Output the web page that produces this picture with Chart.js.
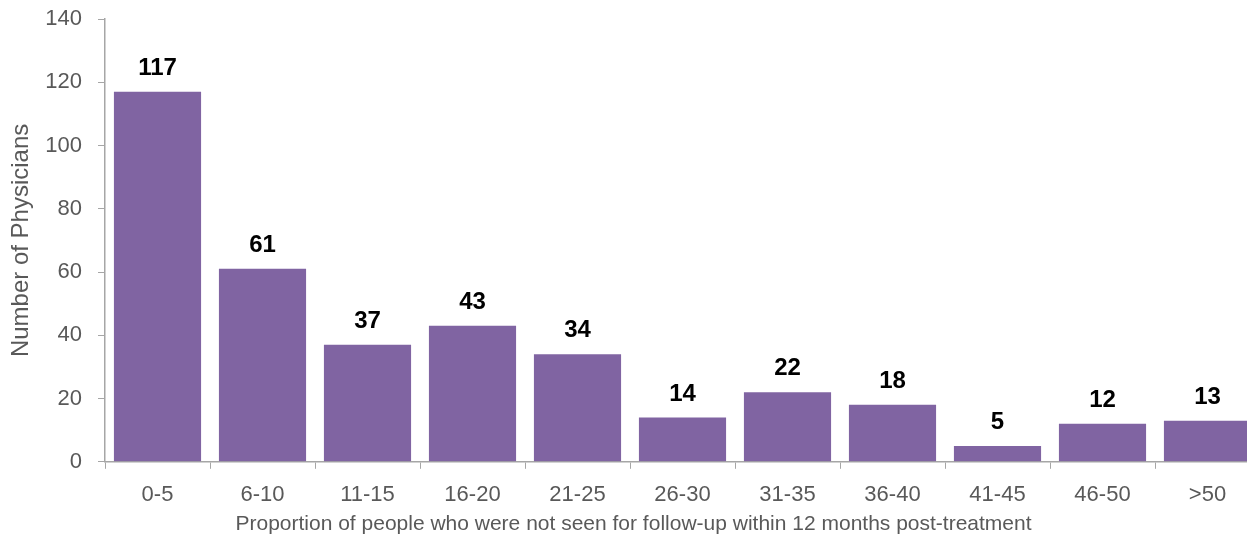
<!DOCTYPE html>
<html>
<head>
<meta charset="utf-8">
<script src="https://cdn.jsdelivr.net/npm/chart.js@4/dist/chart.umd.min.js"></script>
<style>
  html, body { margin: 0; padding: 0; background: #fff; overflow: hidden; }
  #wrap { position: relative; width: 1260px; height: 539px; }
</style>
</head>
<body>
<div id="wrap"><canvas id="chart"></canvas></div>
<script>
// Categories along the x axis
const CATEGORIES = ['0-5', '6-10', '11-15', '16-20', '21-25', '26-30', '31-35', '36-40', '41-45', '46-50', '>50'];

// Number of physicians per category
const PHYSICIANS = [117, 61, 37, 43, 34, 14, 22, 18, 5, 12, 13];

// Y axis range
const Y_MIN = 0;
const Y_MAX = 140;
const Y_STEP = 20;

const FONT = 'Arial, "Liberation Sans", sans-serif';
const BAR_COLOR = '#8064A2';
const AXIS_COLOR = '#A6A6A6';
const TEXT_COLOR = '#595959';

// Draws the bold value over each bar
const valueLabels = {
    id: 'valueLabels',
    afterDatasetsDraw(chart) {
        const ctx = chart.ctx;
        const meta = chart.getDatasetMeta(0);
        ctx.save();
        ctx.font = 'bold 24px ' + FONT;
        ctx.fillStyle = '#000';
        ctx.textAlign = 'center';
        ctx.textBaseline = 'alphabetic';
        meta.data.forEach((bar, i) => {
            ctx.fillText(String(chart.data.datasets[0].data[i]), bar.x, bar.y - 17);
        });
        ctx.restore();
    }
};

new Chart(document.getElementById('chart'), {
    type: 'bar',
    data: {
        labels: CATEGORIES,
        datasets: [{
            data: PHYSICIANS,
            backgroundColor: BAR_COLOR,
            borderWidth: 0,
            categoryPercentage: 1,
            barPercentage: 0.83
        }]
    },
    options: {
        responsive: true,
        maintainAspectRatio: false,
        animation: false,
        layout: { padding: { top: 19, right: 0, bottom: 2, left: 7 } },
        plugins: {
            legend: { display: false },
            tooltip: { enabled: false },
            // x axis title, centred on the whole picture rather than the plot
            title: {
                display: true,
                position: 'bottom',
                text: 'Proportion of people who were not seen for follow-up within 12 months post-treatment',
                color: TEXT_COLOR,
                font: { family: FONT, size: 21, weight: 'normal' },
                padding: { top: 4, bottom: 0 }
            }
        },
        scales: {
            x: {
                offset: true,
                afterFit: (scale) => { scale.height = 46; },
                grid: {
                    offset: true,
                    drawOnChartArea: false,
                    drawTicks: true,
                    tickLength: 7,
                    color: AXIS_COLOR
                },
                border: { color: AXIS_COLOR, width: 1.5 },
                ticks: {
                    color: TEXT_COLOR,
                    font: { family: FONT, size: 22 },
                    padding: 13,
                    maxRotation: 0
                }
            },
            y: {
                min: Y_MIN,
                max: Y_MAX,
                afterFit: (scale) => {
                    scale.width = 98;
                    scale.paddingTop = 0;
                    scale.paddingBottom = 0;
                },
                grid: {
                    drawOnChartArea: false,
                    drawTicks: true,
                    tickLength: 7,
                    color: AXIS_COLOR
                },
                border: { color: AXIS_COLOR, width: 1.5 },
                ticks: {
                    stepSize: Y_STEP,
                    color: TEXT_COLOR,
                    font: { family: FONT, size: 22 },
                    padding: 16
                },
                title: {
                    display: true,
                    text: 'Number of Physicians',
                    color: TEXT_COLOR,
                    font: { family: FONT, size: 24 },
                    padding: { top: 0, bottom: 9 }
                }
            }
        }
    },
    plugins: [valueLabels]
});
</script>
</body>
</html>
